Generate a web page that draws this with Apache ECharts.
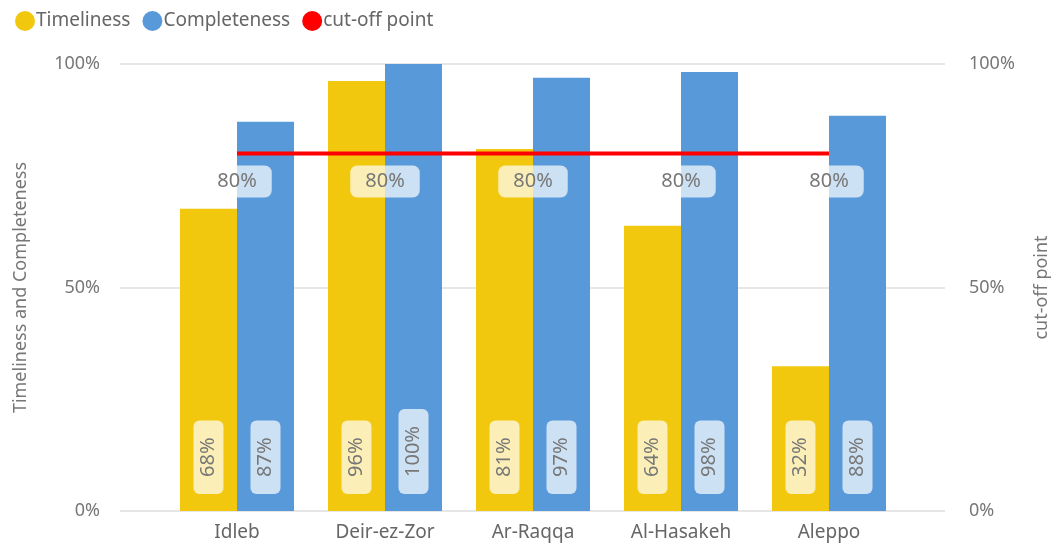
<!DOCTYPE html>
<html>
<head>
<meta charset="utf-8">
<script src="https://cdn.jsdelivr.net/npm/echarts@6/dist/echarts.min.js"></script>
<style>
  html, body { margin: 0; padding: 0; background: #fff; }
  #chart { width: 1059px; height: 548px; }
</style>
</head>
<body>
<div id="chart"></div>
<script>
const regions = ['Idleb', 'Deir-ez-Zor', 'Ar-Raqqa', 'Al-Hasakeh', 'Aleppo']
const timeliness = [67.6, 96.2, 81.0, 63.8, 32.4]
const completeness = [87.1, 100, 96.9, 98.2, 88.4]
const cutOff = [80, 80, 80, 80, 80]

const font = 'Noto Sans'
const grey = '#777'

const pct = (p) => Math.round(p.value) + '%'

const barLabel = {
  show: true,
  position: 'insideBottom',
  rotate: 90,
  align: 'left',
  verticalAlign: 'middle',
  distance: 17,
  formatter: pct,
  color: grey,
  fontFamily: font,
  fontSize: 20,
  backgroundColor: 'rgba(255,255,255,0.7)',
  borderRadius: 6,
  padding: [5, 17]
}

const chart = echarts.init(document.getElementById('chart'))

chart.setOption({
  animation: false,
  textStyle: { fontFamily: font },
  legend: {
    left: 10,
    top: 6,
    icon: 'circle',
    itemWidth: 20,
    itemHeight: 20,
    itemGap: 12,
    textStyle: { color: '#666', fontSize: 19, fontFamily: font, padding: [0, 0, 0, -4] },
    data: ['Timeliness', 'Completeness', 'cut-off point']
  },
  grid: [
    { left: 120, right: 108, top: 64, bottom: 37 },
    { left: 163, right: 156, top: 64, bottom: 37 }
  ],
  xAxis: [
    { type: 'category', gridIndex: 0, data: regions, show: false },
    {
      type: 'category', gridIndex: 1, data: regions,
      axisLine: { show: false }, axisTick: { show: false },
      axisLabel: { color: '#666', fontSize: 19, fontFamily: font, margin: 12 }
    }
  ],
  yAxis: [
    {
      type: 'value', gridIndex: 0, min: 0, max: 100, interval: 50,
      name: 'Timeliness and Completeness', nameLocation: 'middle', nameGap: 90,
      nameTextStyle: { color: grey, fontSize: 18, fontFamily: font },
      axisLabel: { color: grey, fontSize: 18, fontFamily: font, margin: 20, formatter: v => v + '%' },
      splitLine: { lineStyle: { color: '#e6e6e6', width: 2 } }
    },
    {
      type: 'value', gridIndex: 0, position: 'right', min: 0, max: 100, interval: 50,
      name: 'cut-off point', nameLocation: 'middle', nameGap: 88,
      nameTextStyle: { color: grey, fontSize: 18, fontFamily: font },
      axisLabel: { color: grey, fontSize: 18, fontFamily: font, margin: 24, formatter: v => v + '%' },
      splitLine: { show: false }
    },
    { type: 'value', gridIndex: 1, min: 0, max: 100, show: false }
  ],
  series: [
    {
      name: 'Timeliness', type: 'bar', xAxisIndex: 1, yAxisIndex: 2,
      data: timeliness, barWidth: 57, barGap: '0%',
      itemStyle: { color: '#F2C80F' }, label: barLabel
    },
    {
      name: 'Completeness', type: 'bar', xAxisIndex: 1, yAxisIndex: 2,
      data: completeness, barWidth: 57, barGap: '0%',
      itemStyle: { color: '#5899DA' }, label: barLabel
    },
    {
      name: 'cut-off point', type: 'line', xAxisIndex: 1, yAxisIndex: 2,
      data: cutOff, symbol: 'circle', symbolSize: 0.1, showSymbol: true, z: 5,
      itemStyle: { color: '#FF0000' },
      lineStyle: { color: '#FF0000', width: 4 },
      label: {
        show: true, position: 'bottom', distance: 12,
        formatter: pct, color: grey, fontSize: 20, fontFamily: font,
        backgroundColor: 'rgba(255,255,255,0.7)', borderRadius: 7, padding: [6, 15]
      }
    }
  ]
})
</script>
</body>
</html>
